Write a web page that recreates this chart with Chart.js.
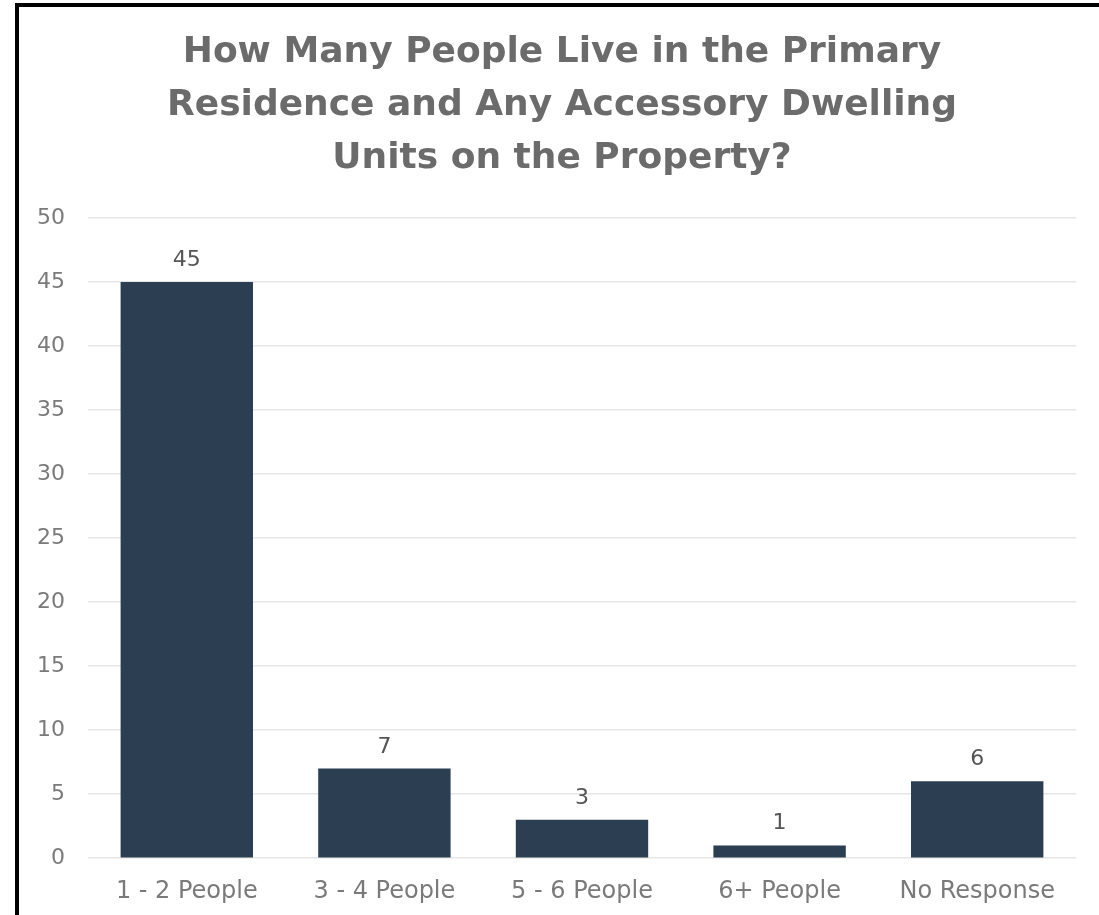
<!DOCTYPE html>
<html>
<head>
<meta charset="utf-8">
<script src="https://cdn.jsdelivr.net/npm/chart.js@4/dist/chart.umd.min.js"></script>
<style>
  html, body { margin: 0; padding: 0; background: #fff; overflow: hidden; }
  #wrap { position: absolute; left: 0; top: 0; width: 1133px; height: 915px; }
  #frame {
    position: absolute; left: 15px; top: 3px; width: 2000px; height: 2000px;
    border-left: 4px solid #000; border-top: 4px solid #000; pointer-events: none;
  }
</style>
</head>
<body>
<div id="wrap"><canvas id="peopleChart" width="1133" height="915"></canvas></div>
<div id="frame"></div>
<script>
// values
const categories = ['1 - 2 People', '3 - 4 People', '5 - 6 People', '6+ People', 'No Response'];
const counts = [45, 7, 3, 1, 6];
const titleLines = [
  'How Many People Live in the Primary',
  'Residence and Any Accessory Dwelling',
  'Units on the Property?'
];

const FONT = '"DejaVu Sans", Verdana, sans-serif';

// simple value labels above each bar (no datalabels plugin available offline)
const barValueLabels = {
  id: 'barValueLabels',
  afterDatasetsDraw(chart) {
    const ctx = chart.ctx;
    const meta = chart.getDatasetMeta(0);
    ctx.save();
    ctx.font = '22px ' + FONT;
    ctx.fillStyle = '#555';
    ctx.textAlign = 'center';
    ctx.textBaseline = 'alphabetic';
    meta.data.forEach((bar, i) => {
      ctx.fillText(String(counts[i]), bar.x, bar.y - 16);
    });
    ctx.restore();
  }
};

new Chart(document.getElementById('peopleChart'), {
  type: 'bar',
  data: {
    labels: categories,
    datasets: [{
      data: counts,
      backgroundColor: '#2c3e52',
      borderWidth: 0,
      categoryPercentage: 0.67,
      barPercentage: 1.0
    }]
  },
  options: {
    responsive: false,
    animation: false,
    layout: { padding: { left: 14, right: 23, top: 26, bottom: -10 } },
    plugins: {
      legend: { display: false },
      tooltip: { enabled: false },
      title: {
        display: true,
        text: titleLines,
        color: '#6b6b6b',
        font: { family: FONT, size: 36, weight: 'bold', lineHeight: 1.472 },
        padding: { top: 0, bottom: 33 }
      }
    },
    scales: {
      x: {
        grid: { display: false, drawTicks: false },
        border: { display: false },
        ticks: { color: '#7a7a7a', padding: 19, font: { family: FONT, size: 24 } }
      },
      y: {
        min: 0,
        max: 50,
        ticks: { stepSize: 5, color: '#7a7a7a', padding: 23, font: { family: FONT, size: 22 } },
        grid: { color: '#e6e6e6', lineWidth: 1.5, drawTicks: false },
        border: { display: false }
      },
      // empty spacer on the right so the title centres like the original
      spacer: {
        position: 'right',
        grid: { display: false },
        border: { display: false },
        ticks: { display: false },
        afterFit(scale) { scale.width = 34; }
      }
    }
  },
  plugins: [barValueLabels]
});
</script>
</body>
</html>
